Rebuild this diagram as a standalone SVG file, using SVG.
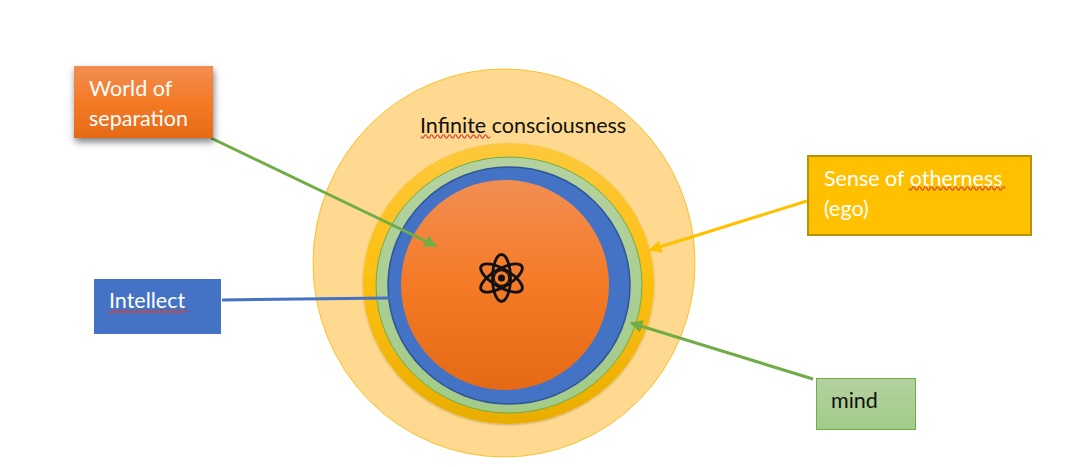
<svg xmlns="http://www.w3.org/2000/svg" width="1074" height="467" viewBox="0 0 1074 467">
<style>
text{font-family:"Lato","Carlito","Liberation Sans",sans-serif;font-size:21.500px}
.w{fill:#fff}.k{fill:#111}
.sq{fill:none;stroke:#d9402e;stroke-width:1.200}
.c{fill:none;stroke-width:3}
</style>
<defs>
<linearGradient id="og" x1="0" y1="0" x2="0" y2="1"><stop offset="0" stop-color="#f28e52"/><stop offset=".5" stop-color="#f47a26"/><stop offset="1" stop-color="#e66a16"/></linearGradient>
<linearGradient id="yg" x1="0" y1="0" x2="0" y2="1"><stop offset="0" stop-color="#fdc83c"/><stop offset=".5" stop-color="#fdbf0f"/><stop offset="1" stop-color="#e8ad00"/></linearGradient>
<linearGradient id="gg" x1="0" y1="0" x2="0" y2="1"><stop offset="0" stop-color="#b4d2a0"/><stop offset="1" stop-color="#a2cb88"/></linearGradient>
<filter id="sh" x="-20%" y="-20%" width="140%" height="140%"><feDropShadow dx="1" dy="4" stdDeviation="3.500" flood-color="#000" flood-opacity=".5"/></filter>
<filter id="sc" x="-10%" y="-10%" width="120%" height="120%"><feDropShadow dx="0" dy="1" stdDeviation="1.200" flood-color="#000" flood-opacity=".22"/></filter>
<marker id="ag" viewBox="0 0 10 10" refX="9" refY="5" markerWidth="4.200" markerHeight="4.200" orient="auto-start-reverse"><path d="M0 0L10 5L0 10z" fill="#70ad47"/></marker>
<marker id="ay" viewBox="0 0 10 10" refX="9" refY="5" markerWidth="4.200" markerHeight="4.200" orient="auto-start-reverse"><path d="M0 0L10 5L0 10z" fill="#ffc000"/></marker>
</defs>
<rect width="1074" height="467" fill="#fff"/>
<g id="node-infinite">
<ellipse cx="504" cy="263" rx="191" ry="194" fill="#fed98f" stroke="#fbc02d" stroke-width="1"/>
<text class="k" x="420" y="132.500">Infinite consciousness</text>
<path class="sq" d="M421 136.500q1.500 3.500 3 0t3 0t3 0t3 0t3 0t3 0t3 0t3 0t3 0t3 0t3 0t3 0t3 0t3 0t3 0t3 0t3 0t3 0t3 0t3 0t3 0t3 0t3 0"/>
</g>
<g id="node-ego-ring"><ellipse cx="508.500" cy="283.500" rx="145.500" ry="140.500" fill="url(#yg)" filter="url(#sc)"/></g>
<g id="node-mind-ring"><ellipse cx="509" cy="285" rx="133" ry="128" fill="url(#gg)" stroke="#70ad47" stroke-width="1"/></g>
<g id="node-intellect-ring"><ellipse cx="509" cy="285.500" rx="121" ry="118.500" fill="#4472c4" stroke="#2f5597" stroke-width="1.500"/></g>
<g id="node-core">
<ellipse cx="505" cy="285" rx="104" ry="105" fill="url(#og)"/>
<g id="atom" fill="none" stroke="#111" stroke-width="2.800">
<ellipse cx="501.500" cy="278" rx="9" ry="23.500"/>
<ellipse cx="501.500" cy="278" rx="9" ry="23.500" transform="rotate(60 501.500 278)"/>
<ellipse cx="501.500" cy="278" rx="9" ry="23.500" transform="rotate(-60 501.500 278)"/>
<circle cx="501.500" cy="278" r="3.500" fill="#111" stroke="none"/>
<circle cx="501.500" cy="278" r="7.500" stroke-width="1.500"/>
</g>
</g>
<g id="connectors">
<path class="c" d="M211 138L436 246" stroke="#70ad47" marker-end="url(#ag)"/>
<path class="c" d="M222 300L390 298" stroke="#4472c4"/>
<path class="c" d="M807 201L650 250" stroke="#ffc000" marker-end="url(#ay)"/>
<path class="c" d="M813 379L631 323" stroke="#70ad47" marker-end="url(#ag)"/>
</g>
<g id="node-world">
<rect x="74" y="66" width="139" height="72" fill="url(#og)" filter="url(#sh)"/>
<text class="w" x="89" y="96">World of</text>
<text class="w" x="89" y="126">separation</text>
</g>
<g id="node-intellect">
<rect x="94" y="279" width="127" height="55" fill="#4472c4"/>
<text class="w" x="109" y="308">Intellect</text>
<path class="sq" d="M109 311.500q1.500 3.500 3 0t3 0t3 0t3 0t3 0t3 0t3 0t3 0t3 0t3 0t3 0t3 0t3 0t3 0t3 0t3 0t3 0t3 0t3 0t3 0t3 0t3 0t3 0t3 0t3 0t3 0"/>
</g>
<g id="node-ego">
<rect x="808" y="156" width="223" height="79" fill="#ffc000" stroke="#b8900b" stroke-width="2"/>
<text class="w" x="824" y="186">Sense of otherness</text>
<text class="w" x="824" y="216">(ego)</text>
<path class="sq" d="M909 188.500q1.500 3.500 3 0t3 0t3 0t3 0t3 0t3 0t3 0t3 0t3 0t3 0t3 0t3 0t3 0t3 0t3 0t3 0t3 0t3 0t3 0t3 0t3 0t3 0t3 0t3 0t3 0t3 0t3 0t3 0t3 0t3 0t3 0t3 0"/>
</g>
<g id="node-mind">
<rect x="816.500" y="378.500" width="99" height="51" fill="url(#gg)" stroke="#70ad47" stroke-width="1"/>
<text class="k" x="831" y="408">mind</text>
</g>
</svg>
